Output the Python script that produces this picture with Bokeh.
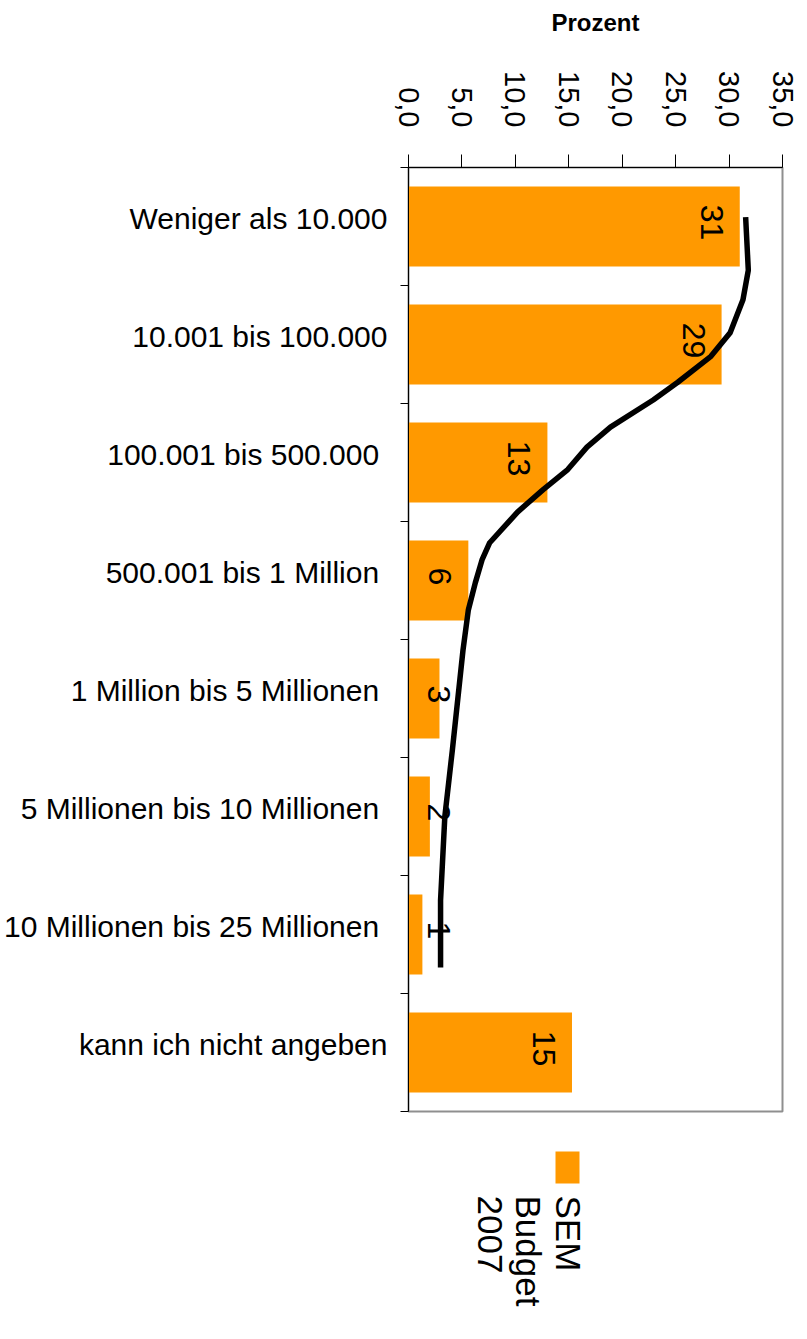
import math
from bokeh.plotting import figure
from bokeh.models import Range1d, FixedTicker, ColumnDataSource
from bokeh.layouts import column
from bokeh.embed import file_html
from bokeh.resources import INLINE
from bokeh.core.properties import value

# ---------------- data ----------------
categories = [
    "Weniger als 10.000",
    "10.001 bis 100.000",
    "100.001 bis  500.000",
    "500.001 bis  1 Million",
    "1 Million bis  5 Millionen",
    "5 Millionen bis  10 Millionen",
    "10 Millionen bis  25 Millionen",
    "kann ich nicht angeben",
]
sem_budget_2007 = [31.0, 29.3, 13.0, 5.6, 2.9, 2.0, 1.3, 15.3]

# hand-drawn trend curve (category position, percent)
trend_pos = [0.92, 1.37, 1.62, 1.90, 2.10, 2.32, 2.47, 2.70, 2.87, 3.06, 3.23,
             3.42, 3.68, 3.82, 4.02, 4.25, 4.59, 5.44, 6.00, 6.71, 7.28]
trend_val = [31.55, 31.8, 31.3, 30.1, 28.3, 25.2, 22.9, 18.9, 16.7, 14.9, 12.6,
             10.2, 7.6, 6.9, 6.25, 5.6, 5.1, 4.1, 3.4, 3.0, 3.0]

x_ticks = [0, 5, 10, 15, 20, 25, 30, 35]
x_tick_labels = ["0,0", "5,0", "10,0", "15,0", "20,0", "25,0", "30,0", "35,0"]

legend_lines = ["SEM", "Budget", "2007"]

ORANGE = "#FF9900"
FONT = "Liberation Sans"

W = 800
BORDER_L, BORDER_R = 408, 18
MAIN_H = 1120
LEG_H = 219
LABEL_LIFT = 0.068  # category labels sit slightly above the bar centre

n = len(categories)
pos = [i + 1 for i in range(n)]
label_ticks = [round(pp - LABEL_LIFT, 3) for pp in pos]
bar_labels = [str(round(v)) for v in sem_budget_2007]

# ---------------- main figure ----------------
p = figure(
    width=W, height=MAIN_H,
    x_range=Range1d(0, 35), y_range=Range1d(n + 0.5, 0.5),
    x_axis_location="above",
    toolbar_location=None, output_backend="svg",
    min_border_left=BORDER_L, min_border_right=BORDER_R,
    min_border_top=167, min_border_bottom=9,
)
p.xgrid.visible = False
p.ygrid.visible = False
p.outline_line_color = "#8f8f8f"
p.outline_line_width = 2

src = ColumnDataSource(dict(y=pos, v=sem_budget_2007, lab=bar_labels))
p.hbar(y="y", right="v", left=0, height=0.68, source=src,
       fill_color=ORANGE, line_color=None)

# trend line
p.line(trend_val, trend_pos, line_color="black", line_width=5.5,
       line_join="round", line_cap="butt")

# bar value labels (rotated)
end_idx = [i for i, v in enumerate(sem_budget_2007) if v >= 5.5]
base_idx = [i for i, v in enumerate(sem_budget_2007) if v < 5.5]
src_end = ColumnDataSource(dict(x=[sem_budget_2007[i] for i in end_idx],
                                y=[pos[i] for i in end_idx],
                                t=[bar_labels[i] for i in end_idx]))
src_base = ColumnDataSource(dict(x=[0 for i in base_idx],
                                 y=[pos[i] for i in base_idx],
                                 t=[bar_labels[i] for i in base_idx]))
p.text(x="x", y="y", text="t", source=src_end, angle=-math.pi / 2,
       text_align="center", text_baseline="middle", x_offset=-28, y_offset=-4,
       text_font=value(FONT), text_font_size="32px", text_color="black")
p.text(x="x", y="y", text="t", source=src_base, angle=-math.pi / 2,
       text_align="center", text_baseline="middle", x_offset=30, y_offset=-4,
       text_font=value(FONT), text_font_size="32px", text_color="black")

# x axis (top)
xa = p.xaxis[0]
xa.ticker = FixedTicker(ticks=x_ticks)
xa.major_label_overrides = {t: l for t, l in zip(x_ticks, x_tick_labels)}
xa.major_label_orientation = -math.pi / 2
xa.major_tick_out = 13
xa.major_tick_in = 0
xa.minor_tick_out = 0
xa.minor_tick_in = 0
xa.major_label_standoff = 27
xa.major_label_text_font = FONT
xa.major_label_text_font_size = "29px"
xa.major_label_text_color = "black"
xa.axis_line_color = "black"
xa.major_tick_line_color = "black"
xa.axis_label = "Prozent"
xa.axis_label_text_font = FONT
xa.axis_label_text_font_style = "bold"
xa.axis_label_text_font_size = "24px"
xa.axis_label_text_color = "black"
xa.axis_label_standoff = 32

# y axis (left) : labels near centres, ticks at boundaries
ya = p.yaxis[0]
ya.ticker = FixedTicker(ticks=label_ticks,
                        minor_ticks=[i + 0.5 for i in range(n + 1)])
ya.major_label_overrides = {t: c for t, c in zip(label_ticks, categories)}
ya.major_tick_out = 0
ya.major_tick_in = 0
ya.minor_tick_out = 8
ya.minor_tick_in = 0
ya.minor_tick_line_color = "black"
ya.major_label_standoff = 13
ya.major_label_text_font = FONT
ya.major_label_text_font_size = "30px"
ya.major_label_text_color = "black"
ya.axis_line_color = "black"

# ---------------- legend figure (page-pixel coordinates) ----------------
lg = figure(width=W, height=LEG_H,
            x_range=Range1d(BORDER_L, W - BORDER_R),
            y_range=Range1d(MAIN_H + LEG_H, MAIN_H),
            toolbar_location=None, output_backend="svg",
            x_axis_location=None, y_axis_location=None,
            min_border_left=BORDER_L, min_border_right=BORDER_R,
            min_border_top=0, min_border_bottom=0)
lg.xgrid.visible = False
lg.ygrid.visible = False
lg.outline_line_color = None
lg.quad(left=[555], right=[579], top=[1151], bottom=[1183],
        fill_color=ORANGE, line_color=None)
lg.text(x=[567.5, 528, 489], y=[1195, 1195, 1195], text=legend_lines,
        angle=-math.pi / 2, text_align="left", text_baseline="middle",
        text_font=value(FONT), text_font_size="35px", text_color="black")

layout = column(p, lg, spacing=0)
open("out.html", "w").write(file_html(layout, INLINE))
